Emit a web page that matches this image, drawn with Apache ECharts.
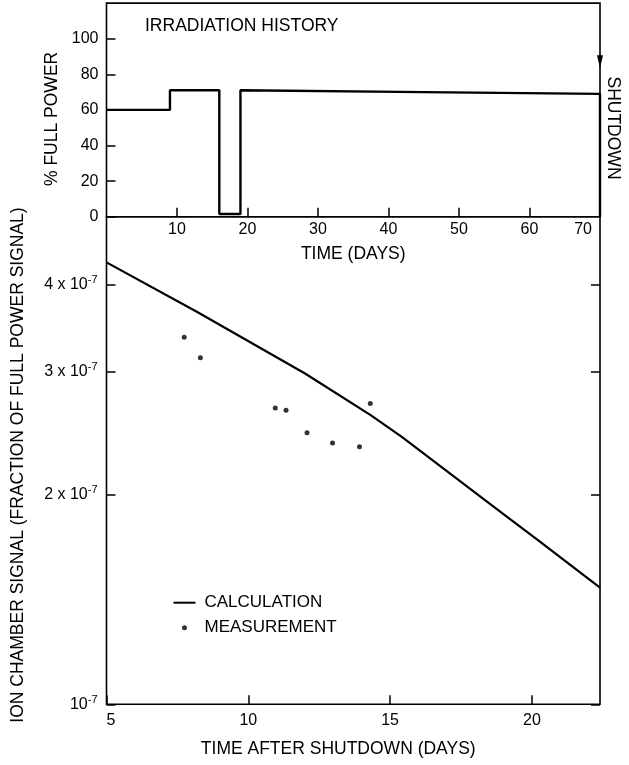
<!DOCTYPE html>
<html>
<head>
<meta charset="utf-8">
<script src="https://cdn.jsdelivr.net/npm/echarts@6.0.0/dist/echarts.min.js"></script>
<style>
  html, body { margin: 0; padding: 0; background: #fff; }
  #chart { width: 629px; height: 765px; }
</style>
</head>
<body>
<div id="chart"></div>
<script>
// irradiation history (top panel)
const powerDays = [0, 9, 9, 16, 16, 19, 19, 45, 70, 70];
const powerLevels = [60, 60, 71, 71, 1.5, 1.5, 71, 70, 69, 0];
const powerTicks = [0, 20, 40, 60, 80, 100];
const timeTicks = [10, 20, 30, 40, 50, 60, 70];

// ion chamber signal after shutdown (bottom panel)
const calcDays = [5.0, 8.2, 12.0, 14.3, 15.4, 19.1, 20.2, 22.4];
const calcValues = [4.30e-7, 3.65e-7, 2.98e-7, 2.60e-7, 2.42e-7, 1.86e-7, 1.72e-7, 1.47e-7];
const measDays = [7.74, 8.31, 10.95, 11.33, 12.07, 12.97, 13.92, 14.30];
const measValues = [3.36e-7, 3.14e-7, 2.66e-7, 2.64e-7, 2.45e-7, 2.37e-7, 2.34e-7, 2.70e-7];
const shutdownTicks = [5, 10, 15, 20];
const signalTicks = [1e-7, 2e-7, 3e-7, 4e-7];

const FONT = '"Liberation Sans", Arial, sans-serif';
const INK = '#000';

const lg = v => Math.log10(v);
const signalTickPos = signalTicks.map(lg);

const chart = echarts.init(document.getElementById('chart'), null, { renderer: 'canvas' });

const tickStyle = { show: true, inside: true, length: 9, lineStyle: { color: INK, width: 1.5 } };
const labelBase = { color: INK, fontFamily: FONT, fontSize: 16 };
const nameBase = { color: INK, fontFamily: FONT, fontSize: 17.5 };

function sigLabel(v) {
  const m = Math.round(Math.pow(10, v) / 1e-7);
  return m === 1 ? '{a|10}{s|-7}' : '{a|' + m + ' x 10}{s|-7}';
}

const option = {
  backgroundColor: '#fff',
  animation: false,
  textStyle: { fontFamily: FONT },
  grid: [
    { left: 106.5, right: 29, top: 3.1, height: 213.6, show: true, borderColor: INK, borderWidth: 1.6, backgroundColor: 'transparent' },
    { left: 106.5, right: 29, top: 216.7, height: 487.6, show: true, borderColor: INK, borderWidth: 1.6, backgroundColor: 'transparent' }
  ],
  xAxis: [
    {
      type: 'value', gridIndex: 0, min: 0, max: 70,
      name: 'TIME (DAYS)', nameLocation: 'middle', nameGap: 28, nameTextStyle: nameBase,
      axisLine: { show: false },
      axisTick: Object.assign({ customValues: timeTicks }, tickStyle),
      axisLabel: Object.assign({
        customValues: timeTicks, margin: 5, alignMaxLabel: 'right',
        formatter: v => v === 70 ? '{e|70}' : String(v),
        rich: { e: { fontSize: 16, fontFamily: FONT, color: INK, padding: [0, 8, 0, 0] } }
      }, labelBase),
      splitLine: { show: false }
    },
    {
      type: 'value', gridIndex: 1, min: 5, max: 22.4,
      name: 'TIME AFTER SHUTDOWN (DAYS)', nameLocation: 'middle', nameGap: 36,
      nameTextStyle: Object.assign({ padding: [0, 30, 0, 0] }, nameBase),
      axisLine: { show: false },
      axisTick: Object.assign({ customValues: shutdownTicks }, tickStyle),
      axisLabel: Object.assign({ customValues: shutdownTicks, margin: 8, alignMinLabel: 'left' }, labelBase),
      splitLine: { show: false }
    }
  ],
  yAxis: [
    {
      type: 'value', gridIndex: 0, min: 0, max: 120,
      name: '% FULL POWER', nameLocation: 'middle', nameGap: 38,
      nameTextStyle: Object.assign({ padding: [0, 18, 0, 0] }, nameBase),
      axisLine: { show: false },
      axisTick: Object.assign({ customValues: powerTicks }, tickStyle),
      axisLabel: Object.assign({ customValues: powerTicks, margin: 8 }, labelBase),
      splitLine: { show: false }
    },
    {
      type: 'value', gridIndex: 1, min: lg(1e-7), max: lg(5e-7),
      name: 'ION CHAMBER SIGNAL (FRACTION OF FULL POWER SIGNAL)', nameLocation: 'middle', nameGap: 79,
      nameTextStyle: Object.assign({ padding: [0, 9, 0, 0] }, nameBase),
      axisLine: { show: false },
      axisTick: Object.assign({ customValues: signalTickPos }, tickStyle),
      axisLabel: Object.assign({
        customValues: signalTickPos, margin: 9, formatter: sigLabel,
        rich: {
          a: { fontSize: 16, fontFamily: FONT, color: INK, lineHeight: 20 },
          s: { fontSize: 11, fontFamily: FONT, color: INK, lineHeight: 12, verticalAlign: 'top' }
        }
      }, labelBase),
      splitLine: { show: false }
    },
    {
      type: 'value', gridIndex: 1, position: 'right', min: lg(1e-7), max: lg(5e-7),
      axisLine: { show: false },
      axisTick: Object.assign({ customValues: signalTickPos }, tickStyle),
      axisLabel: { show: false },
      splitLine: { show: false }
    }
  ],
  legend: {
    orient: 'vertical', left: 172.5, top: 592.7, padding: 0,
    itemWidth: 22, itemHeight: 5, itemGap: 5,
    textStyle: { color: INK, fontFamily: FONT, fontSize: 17, lineHeight: 20, padding: [0, 0, 0, 4] },
    data: [
      { name: 'CALCULATION', itemStyle: { opacity: 0 } },
      'MEASUREMENT'
    ]
  },
  series: [
    {
      name: 'power', type: 'line', xAxisIndex: 0, yAxisIndex: 0,
      data: powerDays.map((d, i) => [d, powerLevels[i]]),
      symbol: 'none', clip: false,
      lineStyle: { color: INK, width: 2.4 },
      markPoint: {
        symbol: 'triangle', symbolRotate: 180, symbolSize: [6, 13],
        itemStyle: { color: INK },
        label: { show: false },
        data: [{ coord: [70, 87] }]
      }
    },
    {
      name: 'CALCULATION', type: 'line', xAxisIndex: 1, yAxisIndex: 1,
      data: calcDays.map((d, i) => [d, lg(calcValues[i])]),
      symbol: 'none', clip: false,
      itemStyle: { color: INK },
      lineStyle: { color: INK, width: 2.2 }
    },
    {
      name: 'MEASUREMENT', type: 'scatter', xAxisIndex: 1, yAxisIndex: 1,
      data: measDays.map((d, i) => [d, lg(measValues[i])]),
      symbol: 'circle', symbolSize: 5,
      itemStyle: { color: INK }
    }
  ],
  graphic: [
    {
      type: 'text', x: 145, y: 26,
      style: { text: 'IRRADIATION HISTORY', font: '17.5px ' + FONT, fill: INK, align: 'left', verticalAlign: 'middle' }
    },
    {
      type: 'text', x: 613, y: 128, rotation: -Math.PI / 2,
      style: { text: 'SHUTDOWN', font: '17.5px ' + FONT, fill: INK, align: 'center', verticalAlign: 'middle' }
    }
  ]
};

chart.setOption(option);
</script>
</body>
</html>
